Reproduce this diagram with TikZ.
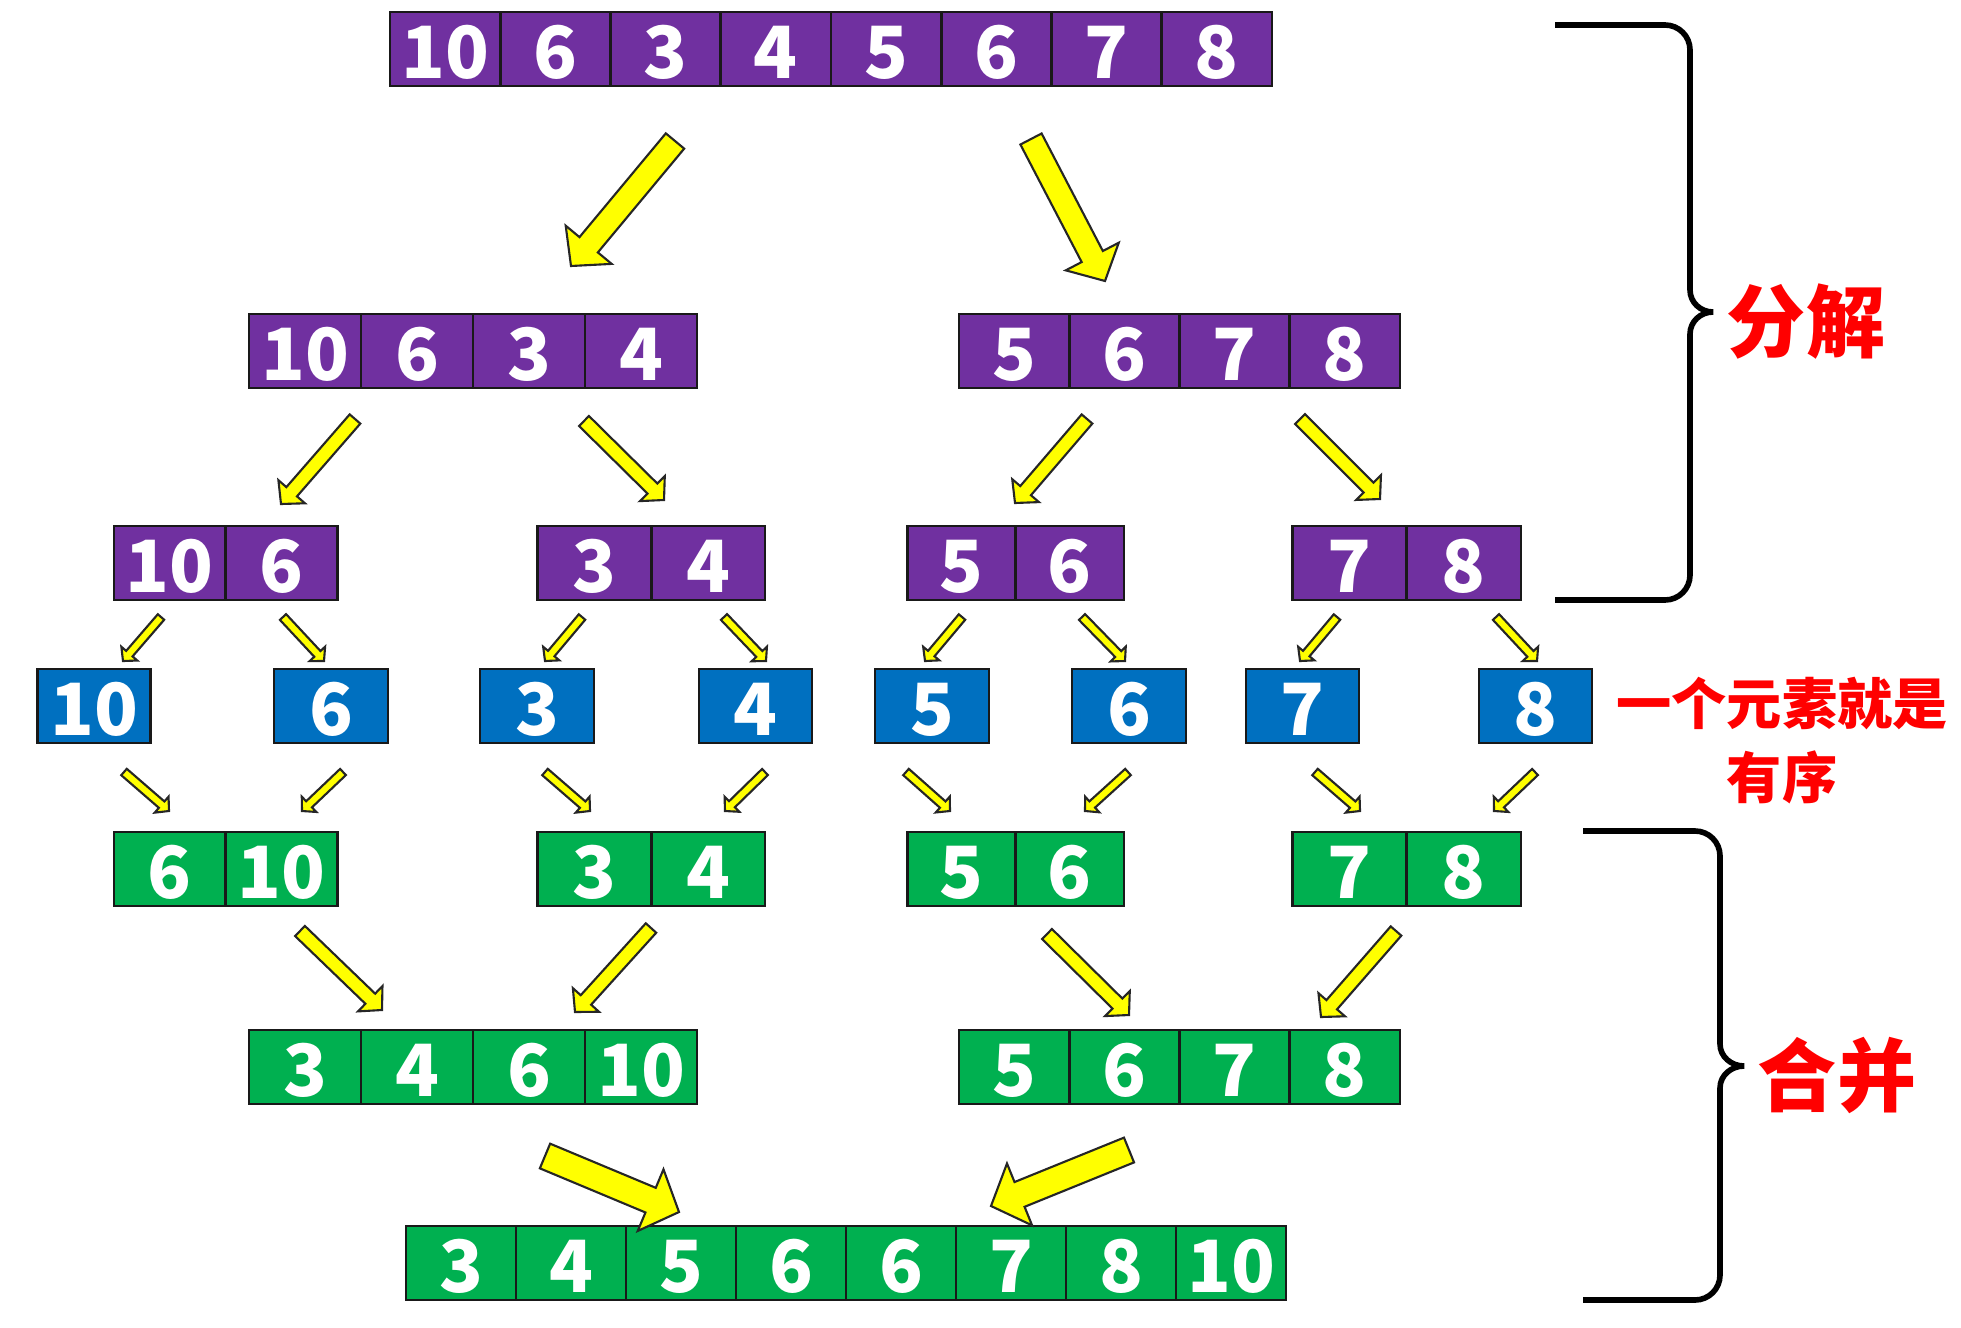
\documentclass[tikz,border=0pt]{standalone}
\usepackage{fontspec}
\newfontfamily\cjk{Noto Sans CJK SC}
\usetikzlibrary{calc}
\definecolor{cellpurple}{HTML}{7030A0}
\definecolor{cellblue}  {HTML}{0070C0}
\definecolor{cellgreen} {HTML}{00B050}
\definecolor{hintred}   {HTML}{FF0000}
\definecolor{arrowfill} {HTML}{FFFF00}
\tikzset{
  cell/.style={draw=black!90,line width=0.8pt,inner sep=0pt,
               text height=0.66cm,text depth=0.08cm,
               text=white,font=\cjk\bfseries\fontsize{20.5}{24}\selectfont},
  purplecell/.style={cell,fill=cellpurple},
  bluecell/.style={cell,fill=cellblue},
  greencell/.style={cell,fill=cellgreen},
  fatarrow/.style={fill=arrowfill,draw=black!85,line width=0.6pt,line join=miter},
  brace/.style={draw=black,line width=1.6pt},
  note/.style={text=hintred,align=center,font=\cjk\bfseries\fontsize{22.5}{26}\selectfont}
}
% one row of cells: name, left x, cell width, centre y, style, values
\newcommand\cellrow[6]{%
  \foreach \v [count=\i] in {#6}
    \node[#5,minimum width=#3*0.01cm] (#1\i) at ({#2+(\i-0.5)*#3},#4) {\v};}
% block arrow: tail, tip, half width of the shaft
\newcommand\yellowarrow[3]{%
  \draw[fatarrow] let \p1=($(#2)-(#1)$), \n1={atan2(\y1,\x1)},
                      \n2={veclen(\x1,\y1)-2.3*#3} in
    ($(#1)+(\n1+90:#3)$) -- ($(#1)+(\n1:\n2)+(\n1+90:#3)$)
    -- ($(#1)+(\n1:\n2)+(\n1+90:2.5*#3)$) -- (#2)
    -- ($(#1)+(\n1:\n2)+(\n1-90:2.5*#3)$) -- ($(#1)+(\n1:\n2)+(\n1-90:#3)$)
    -- ($(#1)+(\n1-90:#3)$) -- cycle;}
\begin{document}
\begin{tikzpicture}[x=0.01cm,y=-0.01cm]
  \useasboundingbox (0,0) rectangle (1961,1327);

  % split
  \cellrow{top}{390}{110.25}{49}{purplecell}{10,6,3,4,5,6,7,8}
  \cellrow{hl}{249}{112}{351}{purplecell}{10,6,3,4}
  \cellrow{hr}{959}{110.25}{351}{purplecell}{5,6,7,8}
  \cellrow{qa}{114}{111.75}{563}{purplecell}{10,6}
  \cellrow{qb}{537.5}{113.75}{563}{purplecell}{3,4}
  \cellrow{qc}{907.5}{108.25}{563}{purplecell}{5,6}
  \cellrow{qd}{1292.5}{114.25}{563}{purplecell}{7,8}

  % single elements
  \cellrow{sa}{37.5}{113}{706}{bluecell}{10}
  \cellrow{sb}{274}{114}{706}{bluecell}{6}
  \cellrow{sc}{480}{114}{706}{bluecell}{3}
  \cellrow{sd}{699}{113}{706}{bluecell}{4}
  \cellrow{se}{875}{114}{706}{bluecell}{5}
  \cellrow{sf}{1072}{114}{706}{bluecell}{6}
  \cellrow{sg}{1246}{113}{706}{bluecell}{7}
  \cellrow{sh}{1479}{113}{706}{bluecell}{8}

  % merge
  \cellrow{ma}{114}{111.75}{869}{greencell}{6,10}
  \cellrow{mb}{537.5}{113.75}{869}{greencell}{3,4}
  \cellrow{mc}{907.5}{108.25}{869}{greencell}{5,6}
  \cellrow{md}{1292.5}{114.25}{869}{greencell}{7,8}
  \cellrow{ml}{249}{112}{1067}{greencell}{3,4,6,10}
  \cellrow{mr}{959}{110.25}{1067}{greencell}{5,6,7,8}
  \cellrow{all}{406}{110}{1263}{greencell}{3,4,5,6,6,7,8,10}

  % arrows
  \yellowarrow{675,141}{571,266}{3.4pt}
  \yellowarrow{1031,139}{1105,281}{3.4pt}
  \yellowarrow{355,419}{281,504}{2pt}
  \yellowarrow{584,421}{664,500}{2pt}
  \yellowarrow{1087,419}{1015,503}{2pt}
  \yellowarrow{1300,419}{1380,499}{2pt}
  \foreach \a/\b in {161/123,283/324,582/545,724/766,962/925,1082/1125,1337/1300,1496/1537}
    \yellowarrow{\a,617}{\b,661}{1.2pt};
  \foreach \a/\b in {124/169,343/302,545/590,765/725,906/950,1128/1085,1315/1360,1535/1494}
    \yellowarrow{\a,772}{\b,811}{1.2pt};
  \yellowarrow{300,931}{382,1010}{2pt}
  \yellowarrow{651,928}{575,1012}{2pt}
  \yellowarrow{1047,934}{1129,1015}{2pt}
  \yellowarrow{1396,931}{1321,1017}{2pt}
  \yellowarrow{545,1156}{679,1212}{3.8pt}
  \yellowarrow{1129,1150}{991,1206}{3.8pt}

  % braces
  \draw[brace] (1555,25) -- (1665,25) to[out=0,in=90] (1690,50) -- (1690,290)
    to[out=-90,in=180] (1713,312) to[out=180,in=90] (1690,334) -- (1690,575)
    to[out=-90,in=0] (1665,600) -- (1555,600);
  \draw[brace] (1583,831) -- (1695,831) to[out=0,in=90] (1720,856) -- (1720,1044)
    to[out=-90,in=180] (1744,1066) to[out=180,in=90] (1720,1088) -- (1720,1275)
    to[out=-90,in=0] (1695,1300) -- (1583,1300);

  \node[note] (split) at (1806,322) {分解};
  \node[note] (merge) at (1837,1075) {合并};
  \node[note,font=\cjk\bfseries\fontsize{15.7}{21}\selectfont] (sorted) at (1782,741)
    {一个元素就是\\有序};
\end{tikzpicture}
\end{document}
